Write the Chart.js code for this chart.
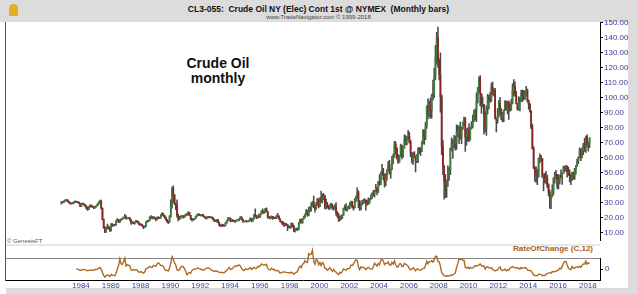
<!DOCTYPE html>
<html>
<head>
<meta charset="utf-8">
<script src="https://cdn.jsdelivr.net/npm/chart.js@4.4.1/dist/chart.umd.min.js"></script>
<style>
body{margin:0;width:637px;height:294px;position:relative;overflow:hidden;background:#fff;font-family:Arial,"Liberation Sans",sans-serif;}
.abs{position:absolute;}
</style>
</head>
<body>
<div class="abs" style="left:0;top:0;width:637px;height:22px;background:#dcdcdc"></div>
<div class="abs" style="left:9px;top:4px;width:9px;height:12px;background:#e0b020;border-radius:5px 5px 2px 2px"></div>
<div class="abs" style="left:0;top:4px;width:637px;text-align:center;font-weight:bold;font-size:8.5px;white-space:pre;color:#111">CL3-055:  Crude Oil NY (Elec) Cont 1st @ NYMEX  (Monthly bars)</div>
<div class="abs" style="left:0;top:14px;width:637px;text-align:center;font-size:6px;color:#444">www.TradeNavigator.com © 1999-2018</div>
<div class="abs" style="left:628px;top:22px;width:9px;height:272px;background:#dcdcdc"></div>
<div class="abs" style="left:6px;top:288px;width:622px;height:6px;background:#dcdcdc"></div>
<div class="abs" style="left:5px;top:22px;width:1px;height:259px;background:#555"></div>
<div class="abs" style="left:6px;top:244px;width:594px;height:2px;background:#e8e8e8"></div>
<div class="abs" style="left:6px;top:258px;width:594px;height:1px;background:#8a8a8a"></div>
<div class="abs" style="left:168px;top:56px;width:100px;text-align:center;font-weight:bold;font-size:14px;line-height:14.5px;color:#111">Crude Oil<br>monthly</div>
<div class="abs" style="left:7px;top:238px;font-size:6px;color:#555">© GenesisFT</div>
<div class="abs" style="left:400px;top:244px;width:193px;text-align:right;font-weight:bold;font-size:8px;color:#a8601c">RateOfChange (C,12)</div>
<canvas id="price" class="abs" style="left:0;top:0" width="637" height="246"></canvas>
<canvas id="roc" class="abs" style="left:0;top:246px" width="637" height="48"></canvas>
<script>
// first bar = April 1983, one bar per month
const startYear = 1983, startMonth = 4;
const firstOpen = 29.3;

const closes = [
 30.6,30.6,31.0,31.7,31.7,30.9,30.1,29.4,29.6,
 29.7,30.4,30.9,30.5,30.4,29.6,27.9,29.3,29.3,28.8,27.8,26.9,
 25.6,27.3,28.3,27.7,27.3,26.6,27.2,27.9,29.1,30.4,31.0,26.3,
 18.8,13.3,10.4,13.3,14.3,12.8,11.2,15.8,14.6,15.3,15.0,17.9,
 18.7,16.9,18.8,18.7,19.4,20.3,20.8,19.3,19.6,19.9,18.5,16.7,
 17.0,16.3,16.9,17.8,17.3,15.8,15.6,15.4,14.5,13.6,14.2,17.2,
 17.8,18.0,20.4,20.5,19.5,20.3,19.4,18.6,20.2,20.0,19.8,21.8,
 22.7,21.5,20.3,18.5,17.4,17.1,20.7,27.2,39.5,35.2,29.5,28.4,
 21.5,19.2,19.6,20.8,21.2,20.2,21.4,22.3,22.2,23.4,21.5,19.1,
 18.9,18.7,19.4,20.8,21.9,21.9,21.8,21.5,21.9,21.0,20.4,19.5,
 20.3,20.6,20.4,20.4,19.9,18.9,17.6,18.1,18.6,16.9,15.0,14.2,
 15.2,14.5,14.7,16.4,18.1,19.1,19.7,17.5,18.4,18.2,17.6,17.8,
 18.4,18.5,19.2,20.4,18.9,17.4,17.6,17.8,17.5,17.6,18.2,19.5,
 17.7,19.5,21.5,21.2,19.8,20.9,20.4,22.3,24.4,23.4,23.8,25.9,
 24.2,20.3,20.4,19.7,20.8,19.8,20.1,19.6,21.2,21.1,19.2,17.6,
 17.2,15.4,15.6,15.3,15.2,14.2,14.2,13.4,16.1,14.4,11.2,12.1,
 12.8,12.3,16.8,18.7,16.8,19.3,20.5,22.1,24.5,21.8,24.6,25.6,
 27.6,30.4,26.9,25.7,29.0,32.5,27.4,33.1,30.8,32.7,34.4,26.8,
 28.7,27.4,26.3,28.5,28.4,26.3,26.4,27.2,23.4,21.2,19.4,19.8,
 19.5,21.7,26.3,27.3,25.3,26.9,27.0,28.9,30.5,27.2,26.9,31.2,
 33.5,36.6,31.0,25.8,29.6,30.2,30.5,31.6,29.2,29.1,30.4,32.5,
 33.1,36.2,35.8,37.4,39.9,37.1,43.8,42.1,49.6,51.8,49.1,43.5,
 48.2,51.8,55.4,49.7,52.0,56.5,60.6,68.9,66.2,59.8,57.3,61.0,
 67.9,61.4,66.6,71.9,71.3,73.9,74.4,70.3,62.9,58.7,63.1,61.1,
 58.1,61.8,65.9,65.7,64.0,70.7,78.2,74.0,81.7,94.5,88.7,96.0,
 91.8,101.8,101.6,113.5,127.4,140.0,124.1,115.5,100.6,67.8,54.4,44.6,
 41.7,44.8,49.7,51.1,66.3,69.9,69.5,70.0,70.6,77.0,77.3,79.4,
 72.9,79.7,83.8,86.2,74.0,75.6,79.0,71.9,80.0,81.4,84.1,91.4,
 92.2,97.0,106.7,113.9,102.7,95.4,95.7,88.8,79.2,93.2,100.4,98.8,
 98.5,107.1,103.0,104.9,86.5,85.0,88.1,96.5,92.2,86.2,88.9,91.8,
 97.5,92.1,97.2,93.5,92.0,96.6,105.0,107.7,102.3,96.4,92.7,98.4,
 97.5,102.6,101.6,99.7,102.7,105.4,98.2,96.0,91.2,80.5,66.2,53.3,
 48.2,49.8,47.6,59.6,60.3,59.5,47.1,49.2,45.1,46.6,41.7,37.0,
 33.6,33.8,38.3,45.9,49.1,48.3,41.6,44.7,48.2,46.9,49.4,53.7,
 52.8,54.0,50.6,49.3,48.3,46.0,50.2,47.2,51.7,54.4,57.4,60.4,
 64.7,61.6,64.9,68.6,67.0,74.2,68.8,69.8,73.3
];

const highs = [
 30.9,31.0,31.4,32.0,32.3,31.9,31.0,30.3,30.0,
 30.2,30.7,31.3,31.1,31.0,30.5,29.8,29.6,29.9,29.5,28.9,28.0,
 27.2,27.5,28.6,28.6,27.9,27.4,27.5,28.1,29.4,30.7,31.8,31.7,
 26.5,19.3,14.0,13.6,15.7,14.4,13.0,16.1,16.1,15.6,15.5,18.0,
 19.4,18.7,18.9,19.2,19.7,20.5,22.3,21.4,19.9,20.3,19.8,18.8,
 17.4,17.2,17.0,18.3,17.9,17.5,16.2,16.1,15.5,14.6,14.6,17.3,
 18.3,18.4,20.6,21.4,20.8,20.7,20.6,19.5,20.4,20.8,20.3,22.2,
 23.4,22.8,21.6,20.6,18.9,17.7,21.4,31.9,40.4,41.2,35.5,29.6,
 32.0,22.4,20.9,21.3,21.5,21.3,21.7,22.6,22.5,24.1,23.5,21.4,
 19.6,19.3,19.6,21.0,22.1,22.8,22.5,21.9,22.3,22.2,21.1,20.4,
 20.5,20.9,20.9,20.6,20.5,20.1,19.0,18.4,18.7,18.9,17.0,15.3,
 15.8,15.5,15.0,16.7,18.3,20.0,20.0,19.7,18.6,18.8,18.3,18.0,
 18.8,18.7,19.4,20.8,20.5,19.0,17.8,18.0,18.1,17.8,18.4,19.9,
 19.6,19.8,22.2,25.9,21.5,21.2,22.6,22.5,24.8,25.9,24.3,26.0,
 26.6,24.3,21.1,20.6,21.3,20.9,20.6,20.3,21.3,22.9,21.2,19.2,
 17.8,17.4,16.9,16.4,16.2,15.4,14.7,14.2,16.5,16.3,14.9,12.8,
 13.1,13.2,16.8,19.1,18.9,19.6,21.0,22.5,25.6,24.7,27.1,27.2,
 30.0,30.9,34.4,28.2,30.2,33.0,32.5,33.4,37.8,35.7,36.2,35.0,
 32.4,30.3,28.1,28.8,29.7,29.2,27.4,28.8,30.1,24.0,22.9,21.3,
 21.4,22.0,26.4,28.4,29.5,27.1,28.0,30.1,31.1,30.9,28.0,32.7,
 34.5,39.9,38.0,31.6,29.8,31.6,32.2,32.8,31.9,31.7,33.2,33.0,
 35.2,36.6,38.2,38.3,42.3,40.3,44.3,48.7,50.5,55.7,53.0,46.0,
 49.3,52.1,57.6,58.3,52.4,60.9,62.3,70.9,70.6,66.8,62.1,61.4,
 69.2,68.4,67.0,75.4,74.8,74.2,78.4,77.0,71.7,63.5,63.4,64.2,
 61.1,62.2,66.7,66.9,66.6,70.8,78.8,78.7,83.9,94.7,99.3,97.9,
 100.1,102.6,111.8,119.9,135.1,143.7,147.3,126.0,130.0,102.0,71.8,54.8,
 49.0,45.2,54.7,53.5,66.6,73.4,72.2,75.0,74.4,82.0,81.5,81.4,
 83.9,80.5,83.9,87.2,86.9,79.4,80.0,82.9,80.1,84.2,88.6,91.9,
 92.6,103.4,107.0,113.9,114.8,102.4,100.6,95.7,90.5,94.7,102.4,101.8,
 103.7,109.8,110.6,106.0,106.4,86.3,92.9,98.3,100.4,92.9,90.3,91.9,
 98.2,97.8,97.8,97.9,96.1,99.0,109.3,112.2,110.7,104.3,95.3,100.8,
 100.0,105.2,105.2,105.0,104.5,107.7,105.9,98.6,95.9,91.5,82.5,67.5,
 53.9,54.2,52.5,59.9,62.6,61.6,59.4,49.3,49.5,50.9,48.4,42.6,
 38.4,34.8,41.9,46.8,50.2,51.7,49.0,48.8,48.4,51.9,49.9,54.5,
 54.3,54.9,54.6,53.8,52.0,48.7,50.4,50.2,52.9,54.9,59.1,60.5,
 66.7,66.0,66.6,69.6,72.9,74.5,75.3,70.4,73.3
];

const lows = [
 29.0,29.9,30.2,30.9,31.2,30.6,29.8,29.0,29.0,
 29.2,29.5,30.2,30.1,30.0,29.3,27.4,27.3,28.8,28.3,27.4,25.9,
 24.8,25.3,26.9,27.2,26.9,26.0,26.3,27.1,27.8,29.0,29.9,25.9,
 18.5,12.9,10.0,10.4,12.5,12.4,10.8,11.1,14.2,14.3,14.8,15.0,
 17.9,16.6,16.8,18.0,18.6,19.3,20.1,19.0,19.1,19.4,18.2,15.5,
 16.2,15.9,15.6,16.7,17.0,15.6,14.9,15.0,14.4,12.6,13.3,14.0,
 16.9,17.3,17.8,19.5,19.1,19.2,19.1,17.9,18.5,19.3,19.3,19.7,
 21.5,21.0,19.7,18.3,16.9,16.0,16.8,20.4,26.3,30.3,28.7,25.3,
 20.3,17.8,18.7,19.5,20.6,19.6,20.1,21.0,21.4,22.1,21.3,18.9,
 17.6,18.1,18.5,19.3,20.6,21.5,21.3,21.0,21.3,20.8,20.2,19.1,
 19.2,19.8,19.9,19.9,19.6,18.7,17.3,17.4,17.2,16.7,14.7,14.0,
 14.1,14.3,14.1,14.5,16.3,17.9,18.8,17.2,17.3,17.3,17.2,16.8,
 17.6,18.1,17.9,19.1,18.5,17.0,17.0,17.4,17.0,17.1,17.5,18.0,
 17.1,17.6,19.0,20.6,19.4,19.6,20.3,20.2,22.4,23.1,22.7,23.6,
 23.8,19.7,19.5,19.2,19.6,18.8,19.4,19.4,19.4,20.4,19.1,17.4,
 16.4,15.1,14.0,14.9,14.8,11.4,13.3,12.9,13.1,13.8,10.6,10.4,
 11.5,11.4,12.1,16.2,16.5,16.1,18.8,19.9,22.1,20.8,21.3,24.0,
 24.3,27.5,26.5,23.7,25.5,28.3,26.6,27.3,30.2,29.9,32.1,25.8,
 25.9,26.6,25.6,25.5,27.0,25.7,24.9,25.9,21.7,20.4,17.5,17.8,
 18.6,19.3,21.5,25.3,24.5,24.3,25.9,26.0,28.1,26.6,25.1,26.3,
 30.5,32.9,26.7,24.8,25.2,28.6,29.3,30.0,25.0,28.4,28.8,29.5,
 32.0,32.8,34.6,33.7,37.2,35.2,36.8,41.6,42.4,48.3,45.3,40.3,
 41.3,45.0,51.6,49.0,46.2,52.1,56.0,60.2,62.4,59.1,56.3,56.9,
 60.8,59.3,60.2,66.4,68.6,68.5,72.5,69.7,60.7,56.6,55.5,60.2,
 50.5,56.7,56.7,62.7,61.4,64.4,69.3,69.0,72.1,79.6,86.0,87.4,
 86.1,86.6,98.7,100.1,111.9,122.5,120.4,112.0,90.5,62.0,48.8,32.4,
 33.6,33.6,40.9,45.1,48.7,64.5,59.5,66.6,65.1,65.6,73.9,69.5,
 72.4,69.5,78.8,81.6,64.2,68.4,71.1,70.8,72.6,79.2,80.0,84.4,
 85.1,84.1,96.4,103.4,94.6,89.6,94.0,75.7,77.1,74.9,89.2,92.5,
 97.0,97.6,102.0,101.1,86.0,77.3,83.1,87.3,89.1,85.2,84.0,84.1,
 91.4,92.0,89.3,85.6,91.1,91.6,96.0,101.3,101.2,96.0,91.8,91.8,
 91.2,97.4,97.4,98.7,98.9,101.8,97.2,92.5,90.4,79.4,65.7,52.7,
 44.2,43.6,42.0,47.0,56.5,57.5,47.1,37.8,43.2,42.6,40.0,34.5,
 26.2,26.1,33.8,35.2,43.0,45.8,39.2,39.2,42.5,46.6,42.2,49.9,
 50.7,51.2,47.1,48.2,43.8,42.1,44.8,45.6,45.6,49.1,54.2,56.1,
 59.8,58.1,59.9,62.1,64.2,63.6,67.0,64.4,66.8
];

const yearTicks = [1984,1986,1988,1990,1992,1994,1996,1998,2000,2002,2004,2006,2008,2010,2012,2014,2016,2018];
const priceTicks = [10,20,30,40,50,60,70,80,90,100,110,120,130,140,150];
const rocTicks = [0];

const xMin = 1979.573, xMax = 2019.41;
const fontFam = 'Arial, "Liberation Sans", sans-serif';
const axisBlue = '#3d3d99';

// month position (middle of the month)
const xs = closes.map((c, i) => startYear + (startMonth - 1 + i) / 12 + 1 / 24);
const opens = closes.map((c, i) => i === 0 ? firstOpen : closes[i - 1]);

const bodies = closes.map((c, i) => ({x: xs[i], y: [opens[i], c]}));
const wicks = closes.map((c, i) => ({x: xs[i], y: [Math.min(lows[i], opens[i], c), Math.max(highs[i], opens[i], c)]}));
const bodyColors = closes.map((c, i) => c >= opens[i] ? '#3d7f3d' : '#8e2424');

// rate of change over 12 months, in percent
const roc = [];
for (let i = 12; i < closes.length; i++) {
	roc.push({x: xs[i], y: (closes[i] - closes[i - 12]) / closes[i - 12] * 100});
}

const fixWidth = s => { s.width = 37; };

new Chart(document.getElementById('price'), {
	type: 'bar',
	data: {
		datasets: [{
			data: bodies,
			backgroundColor: bodyColors,
			barThickness: 1.1,
			grouped: false
		}, {
			data: wicks,
			backgroundColor: '#4a4a4a',
			barThickness: 0.9,
			grouped: false
		}]
	},
	options: {
		responsive: false,
		animation: false,
		layout: {padding: {left: 6, top: 22, bottom: 1, right: 0}},
		plugins: {legend: {display: false}, tooltip: {enabled: false}},
		scales: {
			x: {type: 'linear', display: false, min: xMin, max: xMax, offset: false},
			y: {
				position: 'right',
				min: 4.97, max: 150.65,
				afterBuildTicks: s => { s.ticks = priceTicks.map(v => ({value: v})); },
				afterFit: fixWidth,
				grid: {drawOnChartArea: false, drawTicks: true, tickLength: 3, color: '#000'},
				border: {display: true, color: '#000', width: 1},
				ticks: {padding: 1, color: axisBlue, font: {size: 8, family: fontFam}, callback: v => v.toFixed(2)}
			}
		}
	}
});

new Chart(document.getElementById('roc'), {
	type: 'line',
	data: {
		datasets: [{
			data: roc,
			borderColor: '#ad6a24',
			borderWidth: 1.4,
			pointRadius: 0,
			tension: 0,
			clip: false
		}]
	},
	options: {
		responsive: false,
		animation: false,
		layout: {padding: {left: 6, top: 12, bottom: 0, right: 0}},
		plugins: {legend: {display: false}, tooltip: {enabled: false}},
		scales: {
			x: {
				type: 'linear', min: xMin, max: xMax,
				afterBuildTicks: s => { s.ticks = yearTicks.map(v => ({value: v})); },
				afterFit: s => { s.height = 14; },
				grid: {drawOnChartArea: false, drawTicks: false},
				border: {display: true, color: '#000', width: 1},
				ticks: {align: 'start', autoSkip: false, maxRotation: 0, padding: 1, color: axisBlue, font: {size: 8, family: fontFam}, callback: v => String(v)}
			},
			y: {
				position: 'right',
				min: -86, max: 86,
				afterBuildTicks: s => { s.ticks = rocTicks.map(v => ({value: v})); },
				afterFit: fixWidth,
				grid: {drawOnChartArea: false, drawTicks: true, tickLength: 3, color: '#000'},
				border: {display: true, color: '#000', width: 1},
				ticks: {padding: 2, color: axisBlue, font: {size: 8, family: fontFam}, callback: v => String(v)}
			}
		}
	}
});
</script>
</body>
</html>
